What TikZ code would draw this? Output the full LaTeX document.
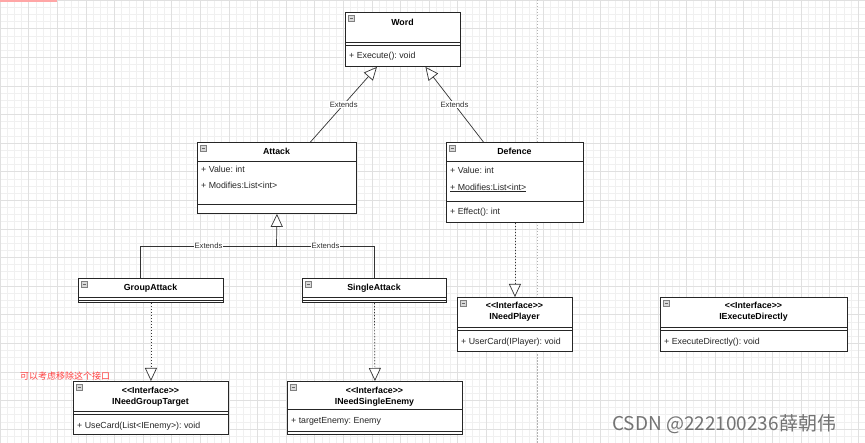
\documentclass[tikz,border=0pt]{standalone}
\usepackage{fontspec}
\setmainfont{Liberation Sans}
\newfontfamily\cjk{Noto Sans CJK SC}
\usetikzlibrary{arrows.meta}
\frenchspacing

\begin{document}
\begin{tikzpicture}[x=1pt, y=-1pt,
    box/.style={draw=black!85, line width=0.9pt, fill=white, anchor=north west, inner sep=0pt},
    ttl/.style={font=\fontsize{8.8}{11}\selectfont\bfseries, align=center, inner sep=0pt},
    fld/.style={font=\fontsize{8.8}{10}\selectfont, anchor=west, inner sep=0pt, text=black!85},
    sep/.style={black!85, line width=0.8pt},
    line/.style={draw=black!80, line width=0.7pt},
    extends/.style={line, -{Triangle[open, length=13pt, width=12pt, fill=white]}},
    realizes/.style={extends, dash pattern=on 1.5pt off 1.5pt},
    lbl/.style={font=\fontsize{7.7}{9}\selectfont, fill=white, inner sep=0.6pt, text=black!80},
    icon/.style={draw=black!50, fill=black!15, line width=0.4pt}]

  % canvas
  \useasboundingbox (0,0) rectangle (865,443);
  \fill[white] (0,0) rectangle (865,443);
  \draw[black!6, step=7.15pt] (0,0) grid (865,443);
  \draw[black!12, step=28.6pt] (0,0) grid (865,443);
  \fill[red!35] (0,0) rectangle (57,2.5);
  \draw[black!30, dash pattern=on 1.5pt off 1.5pt] (537,0) -- (537,443);

  % Word
  \node[box, minimum width=115pt, minimum height=54pt] (word) at (345,12) {};
  \node[ttl] (word-t) at (402.5,22) {Word};
  \draw[sep] (word.west |- 0,42) -- (word.east |- 0,42);
  \draw[sep] (word.west |- 0,45) -- (word.east |- 0,45);
  \node[fld] (word-m) at (349,56) {+ Execute(): void};

  % Attack
  \node[box, minimum width=159pt, minimum height=71pt] (attack) at (197,142) {};
  \node[ttl] (attack-t) at (276.5,151) {Attack};
  \draw[sep] (attack.west |- 0,161) -- (attack.east |- 0,161);
  \node[fld] (attack-f1) at (201,169) {+ Value: int};
  \node[fld] (attack-f2) at (201,185) {+ Modifies:List{<}int{>}};
  \draw[sep] (attack.west |- 0,204) -- (attack.east |- 0,204);

  % Defence
  \node[box, minimum width=137pt, minimum height=80pt] (defence) at (446,142) {};
  \node[ttl] (defence-t) at (514.5,151) {Defence};
  \draw[sep] (defence.west |- 0,161) -- (defence.east |- 0,161);
  \node[fld] (defence-f1) at (450,170) {+ Value: int};
  \node[fld] (defence-f2) at (450,188) {\underline{+ Modifies:List{<}int{>}}};
  \draw[sep] (defence.west |- 0,201) -- (defence.east |- 0,201);
  \node[fld] (defence-m) at (450,212) {+ Effect(): int};

  % GroupAttack, SingleAttack
  \node[box, minimum width=145pt, minimum height=24pt] (groupattack) at (78,278) {};
  \node[ttl] (groupattack-t) at (150.5,288) {GroupAttack};
  \node[box, minimum width=144pt, minimum height=24pt] (singleattack) at (302,278) {};
  \node[ttl] (singleattack-t) at (374,288) {SingleAttack};
  \foreach \n in {groupattack,singleattack}{
    \draw[sep] (\n.west |- 0,297) -- (\n.east |- 0,297);
    \draw[sep] (\n.west |- 0,300) -- (\n.east |- 0,300);
  }

  % interfaces
  \node[box, minimum width=155pt, minimum height=53pt] (groupt) at (73,381) {};
  \node[ttl] (groupt-t) at (150.5,397) {{<}{<}Interface{>}{>}\\INeedGroupTarget};
  \draw[sep] (groupt.west |- 0,411) -- (groupt.east |- 0,411);
  \draw[sep] (groupt.west |- 0,414) -- (groupt.east |- 0,414);
  \node[fld] (groupt-m) at (77,426) {+ UseCard(List{<}IEnemy{>}): void};

  \node[box, minimum width=175pt, minimum height=53pt] (singlee) at (287,381) {};
  \node[ttl] (singlee-t) at (374.5,397) {{<}{<}Interface{>}{>}\\INeedSingleEnemy};
  \draw[sep] (singlee.west |- 0,409) -- (singlee.east |- 0,409);
  \node[fld] (singlee-f) at (291,421) {+ targetEnemy: Enemy};
  \draw[sep] (singlee.west |- 0,431) -- (singlee.east |- 0,431);

  \node[box, minimum width=115pt, minimum height=54pt] (player) at (457,297) {};
  \node[ttl] (player-t) at (514.5,312) {{<}{<}Interface{>}{>}\\INeedPlayer};
  \node[fld] (player-m) at (461,342) {+ UserCard(IPlayer): void};

  \node[box, minimum width=187pt, minimum height=54pt] (direct) at (660,297) {};
  \node[ttl] (direct-t) at (753.5,312) {{<}{<}Interface{>}{>}\\IExecuteDirectly};
  \node[fld] (direct-m) at (664,342) {+ ExecuteDirectly(): void};

  \foreach \n in {player,direct}{
    \draw[sep] (\n.west |- 0,327) -- (\n.east |- 0,327);
    \draw[sep] (\n.west |- 0,330) -- (\n.east |- 0,330);
  }

  % collapse icons
  \foreach \n in {word,attack,defence,groupattack,singleattack,groupt,singlee,player,direct}{
    \draw[icon] ([shift={(3,3)}]\n.north west) rectangle +(6,6);
    \draw[black!60, line width=0.5pt] ([shift={(4.5,6)}]\n.north west) -- +(3,0);
  }

  % inheritance
  \draw[extends] ([xshift=33.5pt]attack.north) -- node[lbl] {Extends} ([xshift=-26pt]word.south);
  \draw[extends] ([xshift=-31.5pt]defence.north) -- node[lbl] {Extends} ([xshift=22.5pt]word.south);

  \coordinate (fork) at (276.5,246);
  \draw[extends] (fork) -- (attack.south);
  \draw[line] ([xshift=-10.5pt]groupattack.north) |- node[lbl, pos=0.75] {Extends} (fork);
  \draw[line] (singleattack.north) |- node[lbl, pos=0.75] {Extends} (fork);

  % realization
  \draw[realizes] (groupattack.south) -- (groupt.north);
  \draw[realizes] (singleattack.south) -- (singlee.north);
  \draw[realizes] (defence.south) -- (player.north);

  % notes
  \node[text=red!75, font=\cjk\fontsize{9}{10}\selectfont, anchor=west, inner sep=0pt] (note) at (20,376) {可以考虑移除这个接口};
  \node[text=black!55, font=\cjk\fontsize{19}{21}\selectfont, anchor=west, inner sep=0pt] (mark) at (612,424) {CSDN @222100236薛朝伟};
\end{tikzpicture}
\end{document}
